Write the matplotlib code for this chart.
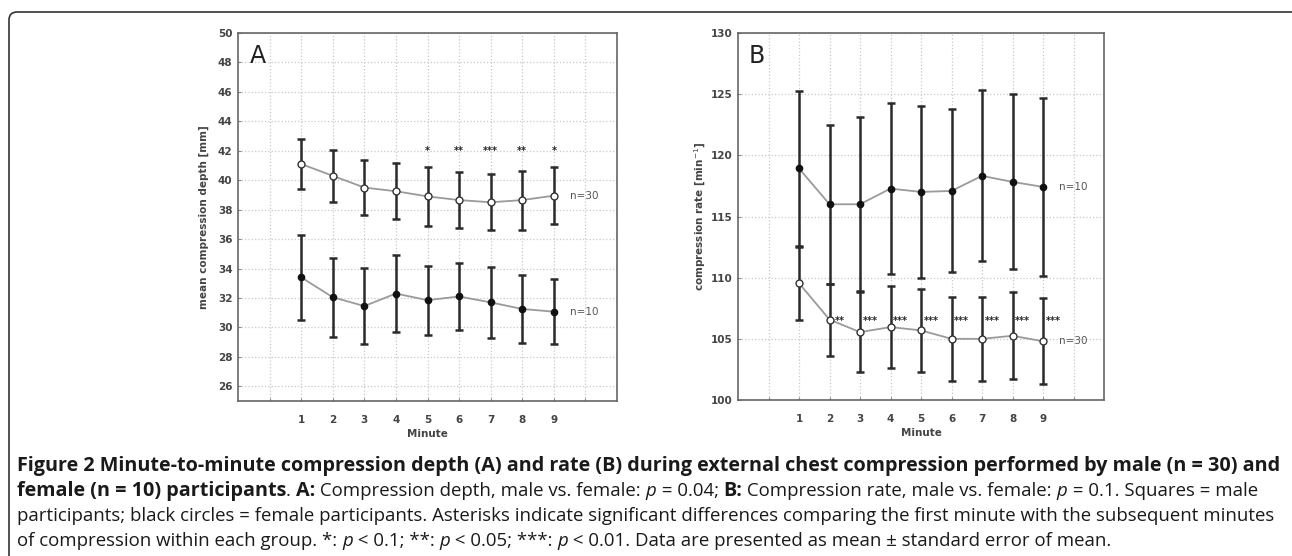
import matplotlib
matplotlib.use("Agg")
import matplotlib.pyplot as plt
import matplotlib.patches as mpatches

# ---- data (mean and SE per minute) ----
minutes = [1, 2, 3, 4, 5, 6, 7, 8, 9]

depth_male = [41.1, 40.3, 39.5, 39.25, 38.9, 38.65, 38.5, 38.65, 38.95]
depth_male_se = [1.68, 1.75, 1.89, 1.9, 2.0, 1.88, 1.9, 2.0, 1.93]
depth_female = [33.4, 32.05, 31.45, 32.3, 31.85, 32.1, 31.7, 31.25, 31.07]
depth_female_se = [2.87, 2.68, 2.59, 2.61, 2.35, 2.25, 2.39, 2.33, 2.21]
depth_stars = ["", "", "", "", "*", "**", "***", "**", "*"]

rate_male = [109.55, 106.57, 105.55, 105.96, 105.69, 105.0, 105.0, 105.25, 104.8]
rate_male_se = [2.97, 2.94, 3.28, 3.35, 3.38, 3.43, 3.45, 3.57, 3.52]
rate_female = [118.93, 116.0, 116.0, 117.28, 117.01, 117.09, 118.32, 117.83, 117.42]
rate_female_se = [6.36, 6.52, 7.1, 6.96, 7.0, 6.66, 6.98, 7.15, 7.25]
rate_stars = ["", "**", "***", "***", "***", "***", "***", "***", "***"]

W, H = 1292, 556
fig = plt.figure(figsize=(W / 100, H / 100), dpi=100)

TICK_COL = "#444444"
BAR_COL = "#2a2a2a"
LINE_COL = "#9a9a9a"


def style_axes(ax, ylim, yticks, ylabel, letter, ylabelpad):
    ax.set_xlim(-1, 11)
    ax.set_ylim(*ylim)
    ax.set_xticks(range(0, 11))
    ax.set_xticklabels([""] + [str(m) for m in minutes] + [""])
    ax.set_yticks(yticks)
    ax.grid(True, color="#c8c8c8", linestyle=":", linewidth=0.9)
    ax.set_axisbelow(True)
    for s in ax.spines.values():
        s.set_color("#666666")
        s.set_linewidth(1.2)
    ax.tick_params(direction="in", length=2, color="#888888",
                   labelsize=7.5, labelcolor=TICK_COL, pad=4)
    for lab in ax.get_xticklabels() + ax.get_yticklabels():
        lab.set_fontweight("bold")
    ax.tick_params(axis="x", pad=10)
    ax.set_xlabel("Minute", fontsize=7.5, fontweight="bold", color=TICK_COL, labelpad=3)
    ax.set_ylabel(ylabel, fontsize=7.5, fontweight="bold", color=TICK_COL, labelpad=ylabelpad)
    ax.text(0.03, 0.97, letter, transform=ax.transAxes, fontsize=17,
            va="top", ha="left", color="#222222")


def draw_series(ax, y, se, open_marker):
    ax.errorbar(minutes, y, yerr=se, fmt="none", ecolor=BAR_COL, elinewidth=1.8,
                capsize=3, capthick=1.8, zorder=3)
    ax.plot(minutes, y, color=LINE_COL, linewidth=1.3, zorder=4)
    if open_marker:
        ax.plot(minutes, y, "o", markersize=5, markerfacecolor="white",
                markeredgecolor="#333333", markeredgewidth=1.0, linestyle="none", zorder=5)
    else:
        ax.plot(minutes, y, "o", markersize=4.5, color="#111111", linestyle="none", zorder=5)


# ---- panel A ----
axA = fig.add_axes([238 / W, 1 - 401 / H, 379 / W, 368 / H])
style_axes(axA, (25, 50), range(26, 51, 2), "mean compression depth [mm]", "A", 6)
draw_series(axA, depth_male, depth_male_se, True)
draw_series(axA, depth_female, depth_female_se, False)
for m, st in zip(minutes, depth_stars):
    if st:
        axA.text(m, 42.0, st, ha="center", va="center", fontsize=7,
                 fontweight="bold", color="#222222")
axA.text(9.95, depth_male[-1], "n=30", ha="center", va="center", fontsize=7.5, color="#555555")
axA.text(9.95, depth_female[-1], "n=10", ha="center", va="center", fontsize=7.5, color="#555555")

# ---- panel B ----
axB = fig.add_axes([738 / W, 1 - 400 / H, 366 / W, 367 / H])
style_axes(axB, (100, 130), range(100, 131, 5), "compression rate [min$^{-1}$]", "B", 2)
draw_series(axB, rate_female, rate_female_se, False)
draw_series(axB, rate_male, rate_male_se, True)
for m, st in zip(minutes, rate_stars):
    if st:
        axB.text(m + 0.33, 106.45, st, ha="center", va="center", fontsize=7,
                 fontweight="bold", color="#222222")
axB.text(10.0, rate_female[-1], "n=10", ha="center", va="center", fontsize=7.5, color="#555555")
axB.text(10.0, rate_male[-1], "n=30", ha="center", va="center", fontsize=7.5, color="#555555")

# ---- rounded frame around the figure ----
frame = mpatches.FancyBboxPatch((9, -30), W + 10 - 9, H - 12 + 30,
                                boxstyle="round,pad=0,rounding_size=8",
                                transform=None, fill=False, edgecolor="#333333",
                                linewidth=1.2)
fig.patches.append(frame)

# ---- caption with mixed styles ----
CAP_FONT = ["Open Sans", "DejaVu Sans"]
REG_SIZE = 13.45
BOLD_SIZE = 14.25
renderer = fig.canvas.get_renderer()


def rich_line(y_px, parts, x_px=17):
    x = x_px
    for s, kind in parts:
        kw = dict(fontsize=REG_SIZE, family=CAP_FONT, color="#1a1a1a")
        if kind == "b":
            kw["fontweight"] = "bold"
            kw["fontsize"] = BOLD_SIZE
        elif kind == "i":
            kw["fontstyle"] = "italic"
        t = fig.text(x / W, 1 - y_px / H, s, ha="left", va="baseline", **kw)
        x += t.get_window_extent(renderer).width


rich_line(471, [("Figure 2 Minute-to-minute compression depth (A) and rate (B) during external chest compression performed by male (n = 30) and", "b")])
rich_line(496, [("female (n = 10) participants", "b"), (". ", "r"), ("A:", "b"),
                (" Compression depth, male vs. female: ", "r"), ("p", "i"), (" = 0.04; ", "r"),
                ("B:", "b"), (" Compression rate, male vs. female: ", "r"), ("p", "i"),
                (" = 0.1. Squares = male", "r")])
rich_line(521, [("participants; black circles = female participants. Asterisks indicate significant differences comparing the first minute with the subsequent minutes", "r")])
rich_line(546, [("of compression within each group. *: ", "r"), ("p", "i"), (" < 0.1; **: ", "r"),
                ("p", "i"), (" < 0.05; ***: ", "r"), ("p", "i"),
                (" < 0.01. Data are presented as mean \u00b1 standard error of mean.", "r")])

fig.savefig("out.png", dpi=100)
